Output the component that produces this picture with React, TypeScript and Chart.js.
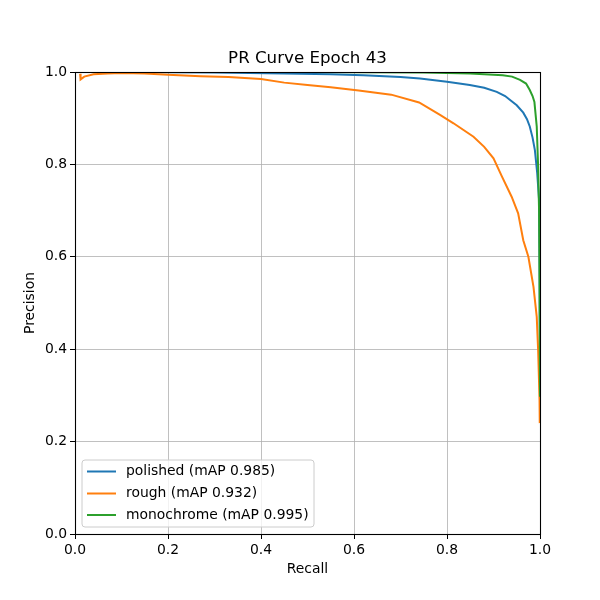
import React, { useEffect, useRef } from "react";
import { Chart, registerables } from "chart.js";

Chart.register(...registerables);

const TITLE = "PR Curve Epoch 43";
const X_LABEL = "Recall";
const Y_LABEL = "Precision";
const SERIES_NAMES = ["polished (mAP 0.985)", "rough (mAP 0.932)", "monochrome (mAP 0.995)"];
const SERIES_COLORS = ["#1f77b4", "#ff7f0e", "#2ca02c"];

const polishedRecall = [0, 0.1, 0.3, 0.45, 0.55, 0.62, 0.7, 0.742, 0.8, 0.849, 0.88, 0.907, 0.925, 0.935, 0.95, 0.964, 0.972, 0.978, 0.984, 0.989, 0.994, 0.998, 0.999, 1.0];
const polishedPrecision = [1.0, 1.0, 0.999, 0.997, 0.995, 0.993, 0.989, 0.986, 0.979, 0.972, 0.966, 0.957, 0.948, 0.94, 0.928, 0.912, 0.898, 0.882, 0.858, 0.831, 0.781, 0.723, 0.6, 0.35];

const roughRecall = [0.011, 0.012, 0.02, 0.04, 0.07, 0.1, 0.15, 0.2, 0.27, 0.33, 0.4, 0.45, 0.5, 0.55, 0.61, 0.68, 0.74, 0.785, 0.814, 0.857, 0.88, 0.9, 0.918, 0.939, 0.953, 0.964, 0.975, 0.986, 0.993, 0.996, 0.999, 0.9995];
const roughPrecision = [0.996, 0.984, 0.99, 0.995, 0.997, 0.998, 0.997, 0.994, 0.991, 0.989, 0.985, 0.977, 0.972, 0.967, 0.96, 0.951, 0.934, 0.907, 0.889, 0.86, 0.838, 0.813, 0.774, 0.73, 0.694, 0.636, 0.6, 0.535, 0.47, 0.398, 0.29, 0.24];

const monoRecall = [0, 0.5, 0.75, 0.85, 0.92, 0.94, 0.957, 0.97, 0.978, 0.984, 0.988, 0.993, 0.996, 0.998, 0.999, 1.0];
const monoPrecision = [1.0, 1.0, 0.999, 0.997, 0.993, 0.99, 0.983, 0.975, 0.961, 0.948, 0.935, 0.882, 0.795, 0.7, 0.55, 0.297];

const X_TICKS = [0, 0.2, 0.4, 0.6, 0.8, 1.0];
const Y_TICKS = [0, 0.2, 0.4, 0.6, 0.8, 1.0];

const FONT = "DejaVu Sans";
const TICK_SIZE = 13.9;

function pts(xs: number[], ys: number[]) {
  return xs.map((x, i) => ({ x, y: ys[i] }));
}

const framePlugin = {
  id: "frameAndLegend",
  afterDatasetsDraw(chart: any) {
    const { ctx, chartArea } = chart;
    const { left, top, right, bottom } = chartArea;
    ctx.save();
    ctx.strokeStyle = "#000";
    ctx.lineWidth = 1.1;
    ctx.strokeRect(left + 0.5, top + 0.5, right - left, bottom - top);
    ctx.restore();

    // legend
    const lx = left + 7, ly = bottom - 74, lw = 232, lh = 67, r = 3;
    ctx.save();
    ctx.beginPath();
    ctx.moveTo(lx + r, ly);
    ctx.lineTo(lx + lw - r, ly);
    ctx.arcTo(lx + lw, ly, lx + lw, ly + r, r);
    ctx.lineTo(lx + lw, ly + lh - r);
    ctx.arcTo(lx + lw, ly + lh, lx + lw - r, ly + lh, r);
    ctx.lineTo(lx + r, ly + lh);
    ctx.arcTo(lx, ly + lh, lx, ly + lh - r, r);
    ctx.lineTo(lx, ly + r);
    ctx.arcTo(lx, ly, lx + r, ly, r);
    ctx.closePath();
    ctx.fillStyle = "rgba(255,255,255,0.8)";
    ctx.fill();
    ctx.strokeStyle = "#cccccc";
    ctx.lineWidth = 1;
    ctx.stroke();
    const rows = [ly + 11.5, ly + 33.5, ly + 55];
    chart.data.datasets.forEach((ds: any, i: number) => {
      const y = rows[i];
      ctx.beginPath();
      ctx.strokeStyle = ds.borderColor;
      ctx.lineWidth = 2;
      ctx.moveTo(lx + 5, y);
      ctx.lineTo(lx + 34, y);
      ctx.stroke();
      ctx.fillStyle = "#000";
      ctx.font = `${TICK_SIZE}px "${FONT}"`;
      ctx.textBaseline = "middle";
      ctx.textAlign = "left";
      ctx.fillText(ds.label, lx + 44, y);
    });
    ctx.restore();
  },
};

export default function App() {
  const ref = useRef<HTMLCanvasElement | null>(null);
  useEffect(() => {
    if (!ref.current) return;
    const seriesX = [polishedRecall, roughRecall, monoRecall];
    const seriesY = [polishedPrecision, roughPrecision, monoPrecision];
    const chart = new Chart(ref.current, {
      type: "scatter",
      data: {
        datasets: SERIES_NAMES.map((name, i) => ({
          label: name,
          data: pts(seriesX[i], seriesY[i]),
          showLine: true,
          borderColor: SERIES_COLORS[i],
          backgroundColor: SERIES_COLORS[i],
          borderWidth: 2,
          pointRadius: 0,
          tension: 0,
          order: 3 - i,
        })),
      },
      options: {
        animation: false,
        responsive: false,
        layout: { padding: { left: 0, right: 60, top: 0, bottom: 0 } },
        plugins: {
          legend: { display: false },
          tooltip: { enabled: false },
          title: {
            display: true,
            text: TITLE,
            fullSize: false,
            color: "#000",
            font: { family: FONT, size: 16.67, weight: "normal" as any, lineHeight: 1.2 },
            padding: { top: 48.5, bottom: 3.5 },
          },
        },
        scales: {
          x: {
            type: "linear",
            min: 0,
            max: 1,
            afterBuildTicks: (s: any) => {
              s.ticks = X_TICKS.map((v) => ({ value: v }));
            },
            afterFit: (s: any) => {
              s.height = 66;
            },
            ticks: {
              callback: (v: any) => Number(v).toFixed(1),
              color: "#000",
              font: { family: FONT, size: TICK_SIZE },
              padding: 3,
              maxRotation: 0,
            },
            grid: { color: "#b0b0b0", lineWidth: 0.8, tickColor: "#000", tickLength: 5, tickWidth: 1 },
            border: { display: false },
            title: {
              display: true,
              text: X_LABEL,
              color: "#000",
              font: { family: FONT, size: TICK_SIZE, lineHeight: 1.2 },
              padding: { top: 0, bottom: 22.6 },
            },
          },
          y: {
            type: "linear",
            min: 0,
            max: 1,
            afterBuildTicks: (s: any) => {
              s.ticks = Y_TICKS.map((v) => ({ value: v }));
            },
            afterFit: (s: any) => {
              s.width = 75;
            },
            ticks: {
              callback: (v: any) => Number(v).toFixed(1),
              color: "#000",
              font: { family: FONT, size: TICK_SIZE },
              padding: 3,
            },
            grid: { color: "#b0b0b0", lineWidth: 0.8, tickColor: "#000", tickLength: 5, tickWidth: 1 },
            border: { display: false },
            title: {
              display: true,
              text: Y_LABEL,
              color: "#000",
              font: { family: FONT, size: TICK_SIZE, lineHeight: 1.2 },
              padding: { top: 21.6, bottom: 0 },
            },
          },
        },
      },
      plugins: [framePlugin],
    });
    return () => chart.destroy();
  }, []);
  return (
    <div style={{ position: "absolute", left: 0, top: 0, width: 600, height: 600, background: "#fff" }}>
      <canvas ref={ref} width={600} height={600} style={{ width: 600, height: 600 }} />
    </div>
  );
}
